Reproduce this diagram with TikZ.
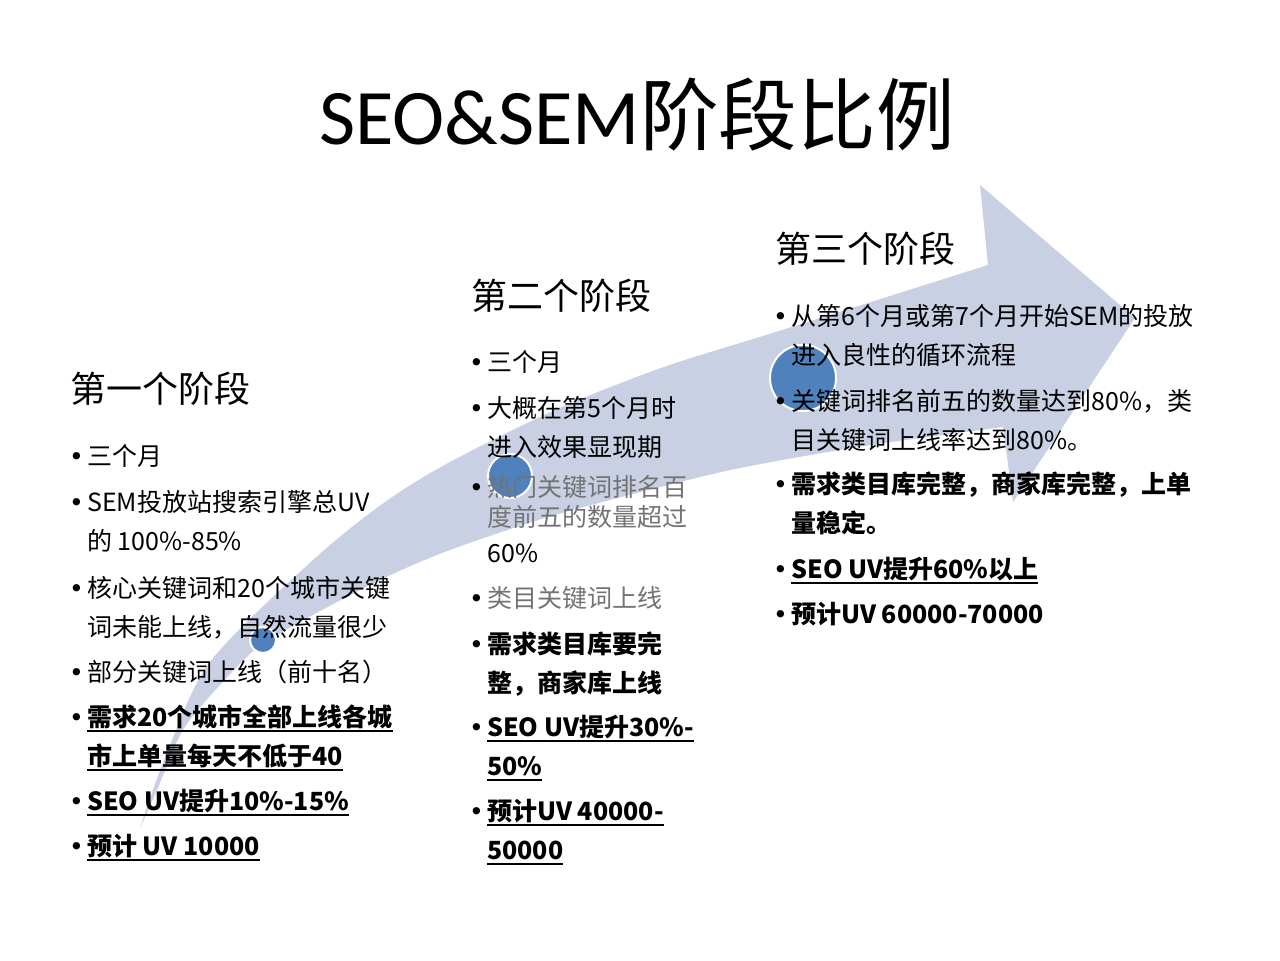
\documentclass[tikz,border=0pt]{standalone}
\usepackage{fontspec}
\setmainfont{Noto Sans CJK SC}
\newfontfamily\latinfont{Carlito}
\newfontfamily\bulfont{DejaVu Sans}
\usepackage{tikz}
\definecolor{bandblue}{RGB}{201,208,227}
\definecolor{dotblue}{RGB}{79,129,189}
\def\ulbar#1{\setbox0\hbox{#1}\rlap{\rule[-4pt]{\wd0}{1.4pt}}\box0}
\def\bul{\llap{{\bulfont\mdseries\textcolor{black}{\textbullet}}\kern2.5pt}}

\tikzset{
  band/.style={fill=bandblue},
  dot/.style={circle, fill=dotblue, draw=white, line width=1.5pt, inner sep=0pt},
  head/.style={anchor=base west, inner sep=0pt, font=\fontsize{27}{32}\selectfont},
  itm/.style={anchor=base west, inner sep=0pt, align=left, font=\fontsize{18.75}{29}\selectfont},
  bitm/.style={itm, font=\fontsize{18.75}{29}\selectfont\bfseries},
  faint/.style={text=black!55},
}

\begin{document}
\begin{tikzpicture}[x=0.75pt, y=-0.75pt]
		%%%%% START %%%%%
		\fill[white] (0, 0) rectangle (1280, 960);
		\useasboundingbox (0, 0) rectangle (1280, 960);
		
		% big arrow
		\fill[band] plot[smooth, tension=0.5] coordinates {(140,828) (165,758) (210,662) (313,560) (385,502) (450,462) (555,410) (661,368) (766,335) (871,302) (988,265)}
			-- (980, 185) -- (1135, 318) -- (1013, 502) -- (1003, 427)
			-- plot[smooth, tension=0.5] coordinates {(1003,427) (871,445) (766,463) (696,478) (555,515) (450,550) (380,580) (300,622) (257,648) (220,685) (183,730) (157,790) (140,828)} -- cycle;
		
		\node[dot, minimum size=19.5pt] (dot1) at (263, 640) {};
		\node[dot, minimum size=33pt] (dot2) at (510, 476) {};
		\node[dot, minimum size=49.5pt] (dot3) at (803, 378) {};
		
		\node[anchor=base, inner sep=0pt, font=\fontsize{59}{64}\selectfont] (title) at (637, 144) {{\latinfont SEO\&SEM}阶段比例};
		
		% stage 1 (base = last line)
		\node[head] (head1) at (70, 402) {第一个阶段};
		\node[itm] (s1a) at (87, 465.5) {\bul 三个月};
		\node[itm] (s1b) at (87, 550.5) {\bul SEM投放站搜索引擎总UV\\的 100\%-85\%};
		\node[itm] (s1c) at (87, 636.5) {\bul 核心关键词和20个城市关键\\词未能上线，自然流量很少};
		\node[itm] (s1d) at (87, 681.5) {\bul 部分关键词上线（前十名）};
		\node[bitm] (s1e) at (87, 765.5) {\bul\ulbar{需求20个城市全部上线各城}\\\ulbar{市上单量每天不低于40}};
		\node[bitm] (s1f) at (87, 810.5) {\bul\ulbar{SEO UV提升10\%-15\%}};
		\node[bitm] (s1g) at (87, 855.5) {\bul\ulbar{预计 UV 10000}};
		
		% stage 2
		\node[head] (head2) at (471, 309) {第二个阶段};
		\node[itm] (s2a) at (487, 371.5) {\bul 三个月};
		\node[itm] (s2b) at (487, 456.5) {\bul 大概在第5个月时\\进入效果显现期};
		\node[itm] (s2c) at (487, 562.5) {\bul\textcolor{black!55}{热门关键词排名百}\\[-6.5pt]\textcolor{black!55}{度前五的数量超过}\\[-2pt]60\%};
		\node[itm, faint] (s2d) at (487, 607.5) {\bul 类目关键词上线};
		\node[bitm] (s2e) at (487, 692.5) {\bul 需求类目库要完\\整，商家库上线};
		\node[bitm] (s2f) at (487, 775.5) {\bul\ulbar{SEO UV提升30\%-}\\\ulbar{50\%}};
		\node[bitm] (s2g) at (487, 859.5) {\bul\ulbar{预计UV 40000-}\\\ulbar{50000}};
		
		% stage 3
		\node[head] (head3) at (775, 262) {第三个阶段};
		\node[itm] (s3a) at (791, 364.5) {\bul 从第6个月或第7个月开始SEM的投放\\进入良性的循环流程};
		\node[itm] (s3b) at (791, 449.5) {\bul 关键词排名前五的数量达到80\%，类\\目关键词上线率达到80\%。};
		\node[bitm] (s3c) at (791, 532.5) {\bul 需求类目库完整，商家库完整，上单\\量稳定。};
		\node[bitm] (s3d) at (791, 578.5) {\bul\ulbar{SEO UV提升60\%以上}};
		\node[bitm] (s3e) at (791, 623.5) {\bul 预计UV 60000-70000};
		
		%%%%% END %%%%%
\end{tikzpicture}
\end{document}
